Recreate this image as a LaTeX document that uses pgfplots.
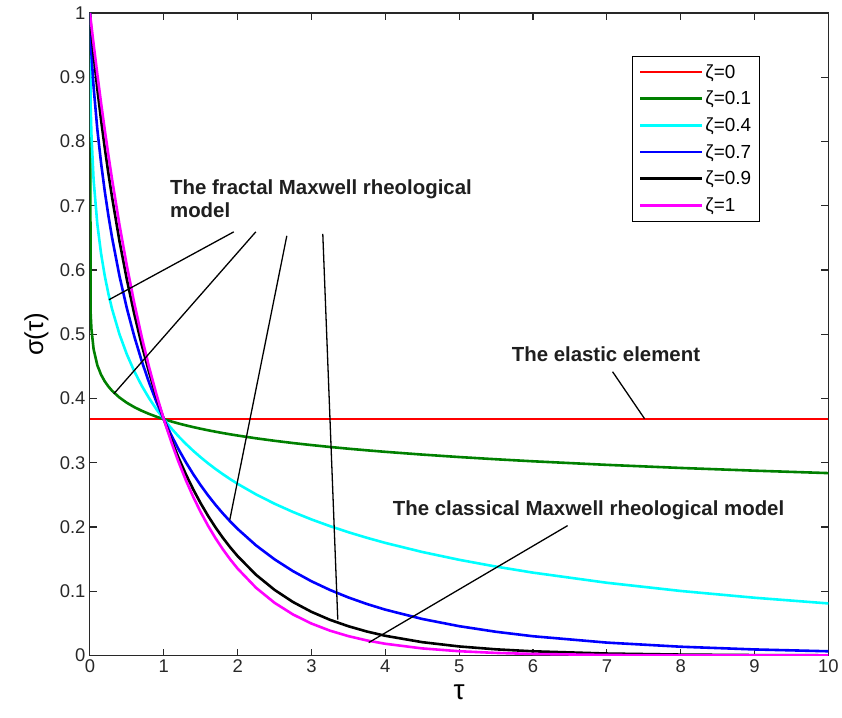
\documentclass[border=0pt]{standalone}
\usepackage{pgfplots}
\pgfplotsset{compat=1.18}
\usepackage{pgfplotstable}
\usepackage{fontspec}
\setmainfont{Liberation Sans}
\definecolor{mgreen}{RGB}{0,128,0}
\definecolor{mcyan}{RGB}{0,255,255}
\definecolor{mblue}{RGB}{0,0,255}
\definecolor{mred}{RGB}{255,0,0}
\definecolor{mmag}{RGB}{255,0,255}
\definecolor{axgray}{RGB}{40,40,40}

\pgfplotstableread{
t     z01      z04      z07      z09      z1
0     1.00000  1.00000  1.00000  1.00000  1.00000
0.01  0.53207  0.85343  0.96097  0.98428  0.99005
0.02  0.50852  0.81128  0.93737  0.97086  0.98020
0.05  0.47658  0.73955  0.88441  0.93476  0.95123
0.1   0.45189  0.67159  0.81911  0.88171  0.90484
0.15  0.43727  0.62613  0.76719  0.83415  0.86071
0.2   0.42684  0.59138  0.72318  0.79066  0.81873
0.25  0.41873  0.56307  0.68458  0.75039  0.77880
0.3   0.41206  0.53913  0.65020  0.71295  0.74082
0.4   0.40155  0.50000  0.59065  0.64510  0.67032
0.5   0.39336  0.46866  0.54036  0.58518  0.60653
0.6   0.38666  0.44255  0.49690  0.53181  0.54881
0.7   0.38100  0.42019  0.45884  0.48413  0.49659
0.8   0.37609  0.40068  0.42509  0.44129  0.44933
0.9   0.37176  0.38339  0.39496  0.40275  0.40657
1.0   0.36788  0.36788  0.36788  0.36788  0.36788
1.1   0.36437  0.35386  0.34336  0.33636  0.33287
1.2   0.36117  0.34108  0.32104  0.30779  0.30119
1.3   0.35823  0.32935  0.30071  0.28186  0.27253
1.4   0.35550  0.31852  0.28209  0.25831  0.24660
1.5   0.35297  0.30849  0.26496  0.23684  0.22313
1.6   0.35060  0.29914  0.24918  0.21729  0.20190
1.7   0.34837  0.29041  0.23462  0.19946  0.18268
1.8   0.34627  0.28223  0.22114  0.18320  0.16530
1.9   0.34428  0.27452  0.20862  0.16833  0.14957
2.0   0.34241  0.26726  0.19702  0.15474  0.13534
2.25  0.33808  0.25078  0.17137  0.12559  0.10540
2.5   0.33422  0.23628  0.14971  0.10219  0.08208
2.75  0.33073  0.22341  0.13132  0.08329  0.06393
3.0   0.32755  0.21183  0.11560  0.06800  0.04979
3.25  0.32463  0.20143  0.10209  0.05565  0.03877
3.5   0.32192  0.19193  0.09039  0.04560  0.03020
3.75  0.31940  0.18329  0.08026  0.03741  0.02352
4.0   0.31705  0.17531  0.07142  0.03074  0.01832
4.5   0.31277  0.16118  0.05693  0.02083  0.01111
5.0   0.30893  0.14902  0.04572  0.01417  0.00674
5.5   0.30548  0.13840  0.03697  0.00968  0.00409
6.0   0.30233  0.12903  0.03005  0.00663  0.00248
7.0   0.29677  0.11328  0.02015  0.00314  0.00091
8.0   0.29196  0.10051  0.01375  0.00151  0.00034
9.0   0.28773  0.08997  0.00951  0.00073  0.00012
10.0  0.28395  0.08111  0.00666  0.00035  0.00005
}\datatable

\begin{document}
\begin{tikzpicture}
\begin{axis}[
  name=ax,
  scale only axis,
  width=739bp, height=643bp,
  xmin=0, xmax=10, ymin=0, ymax=1,
  xtick={0,1,...,10},
  ytick={0,0.1,0.2,0.3,0.4,0.5,0.6,0.7,0.8,0.9,1},
  yticklabels={0,0.1,0.2,0.3,0.4,0.5,0.6,0.7,0.8,0.9,1},
  tick align=inside,
  xtick pos=both, ytick pos=both,
  major tick length=7bp,
  axis line style={draw=axgray, line width=1.1bp},
  every tick/.style={draw=axgray, line width=1.1bp},
  /pgf/number format/assume math mode=true,
  tick label style={font=\fontsize{18.5}{20}\selectfont, text=axgray},
  xticklabel style={yshift=-1bp},
  yticklabel style={xshift=-1bp},
  xlabel={τ},
  ylabel={σ(τ)},
  xlabel style={font=\fontsize{28}{30}\selectfont, at={(rel axis cs:0.5,0)}, anchor=north, yshift=-26bp},
  ylabel style={font=\fontsize{26}{30}\selectfont, at={(rel axis cs:0,0.5)}, anchor=south, yshift=38bp},
  legend style={
    at={(rel axis cs:0.9068,0.9331)}, anchor=north east,
    draw=black, line width=1bp, fill=white,
    font=\fontsize{19}{21}\selectfont,
    legend cell align=left,
    row sep=7.5bp, inner xsep=6bp, inner ysep=6bp,
  },
  legend image code/.code={\draw[#1, line width=2.6bp] (0bp,0bp) -- (62bp,0bp);},
]
\addplot[mred, line width=2.6bp] coordinates {(0,0.36788) (10,0.36788)};
\addlegendentry{ζ=0}
\addplot[mgreen, line width=2.6bp] table[x=t, y=z01] {\datatable};
\addlegendentry{ζ=0.1}
\addplot[mcyan, line width=2.6bp] table[x=t, y=z04] {\datatable};
\addlegendentry{ζ=0.4}
\addplot[mblue, line width=2.6bp] table[x=t, y=z07] {\datatable};
\addlegendentry{ζ=0.7}
\addplot[black, line width=2.6bp] table[x=t, y=z09] {\datatable};
\addlegendentry{ζ=0.9}
\addplot[mmag, line width=2.6bp] table[x=t, y=z1] {\datatable};
\addlegendentry{ζ=1}

% annotation lines
\draw[black, line width=1.3bp] (axis cs:1.948,0.6594) -- (axis cs:0.257,0.5537);
\draw[black, line width=1.3bp] (axis cs:2.246,0.6594) -- (axis cs:0.325,0.4075);
\draw[black, line width=1.3bp] (axis cs:2.666,0.6532) -- (axis cs:1.894,0.2115);
\draw[black, line width=1.3bp] (axis cs:3.153,0.6563) -- (axis cs:3.356,0.0560);
\draw[black, line width=1.3bp] (axis cs:7.077,0.4417) -- (axis cs:7.510,0.3686);
\draw[black, line width=1.3bp] (axis cs:6.468,0.2022) -- (axis cs:3.775,0.0202);

\node[anchor=base west, inner sep=0pt, font=\fontsize{20.5}{23}\selectfont\bfseries, text=black!88] at (axis cs:1.083,0.7170) {The fractal Maxwell rheological};
\node[anchor=base west, inner sep=0pt, font=\fontsize{20.5}{23}\selectfont\bfseries, text=black!88] at (axis cs:1.083,0.6812) {model};
\node[anchor=base west, inner sep=0pt, font=\fontsize{20.5}{23}\selectfont\bfseries, text=black!88] at (axis cs:5.710,0.4572) {The elastic element};
\node[anchor=base west, inner sep=0pt, font=\fontsize{20.5}{23}\selectfont\bfseries, text=black!88] at (axis cs:4.100,0.2177) {The classical Maxwell rheological model};
\end{axis}
\path ([shift={(-90bp,-62bp)}]ax.south west) rectangle ([shift={(752bp,656bp)}]ax.south west);
\end{tikzpicture}
\end{document}
